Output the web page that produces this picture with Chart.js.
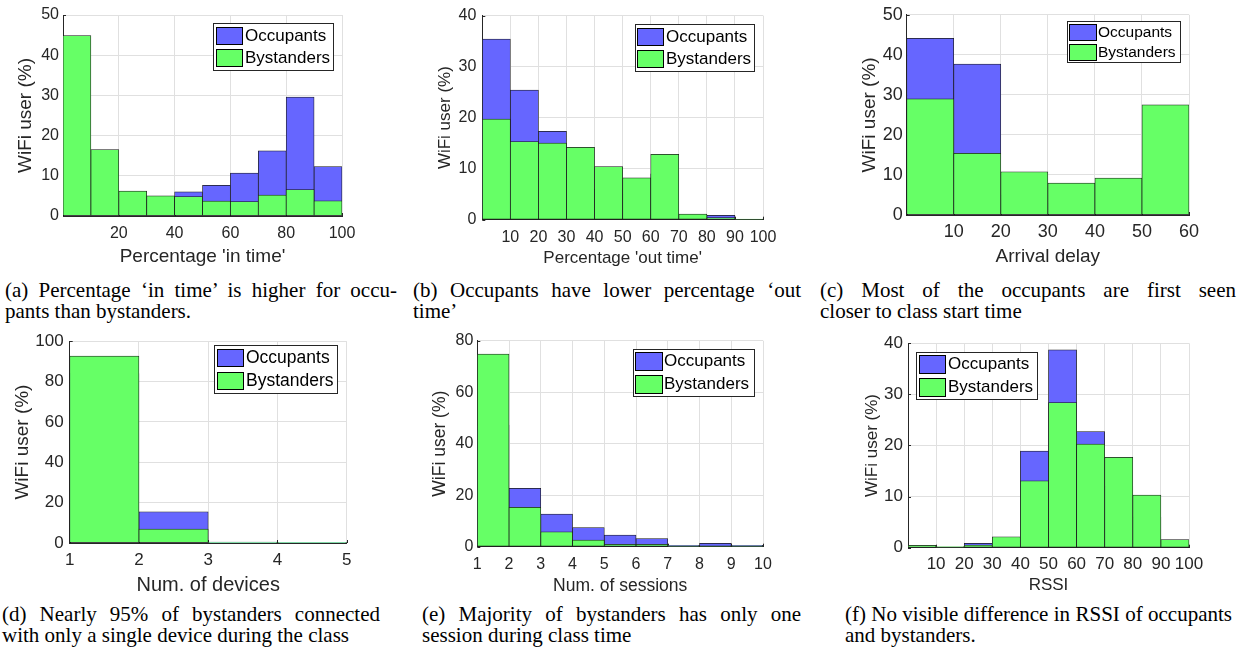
<!DOCTYPE html>
<html><head><meta charset="utf-8">
<script src="https://cdn.jsdelivr.net/npm/chart.js@4.4.0/dist/chart.umd.min.js"></script>
<style>
html,body{margin:0;padding:0;background:#fff;}
body{width:1242px;height:652px;position:relative;overflow:hidden;}
canvas{position:absolute;}
.cap{position:absolute;font-family:"Liberation Serif","Times New Roman",serif;font-size:21px;line-height:21.5px;color:#000;}
.cap .l1{text-align:justify;text-align-last:justify;}
</style></head><body>
<canvas id="ca" width="414" height="270" style="left:0;top:0"></canvas>
<canvas id="cb" width="414" height="270" style="left:414px;top:0"></canvas>
<canvas id="cc" width="414" height="270" style="left:828px;top:0"></canvas>
<canvas id="cd" width="414" height="275" style="left:0;top:325px"></canvas>
<canvas id="ce" width="414" height="275" style="left:414px;top:325px"></canvas>
<canvas id="cf" width="414" height="275" style="left:828px;top:325px"></canvas>

<div class="cap" style="left:5px;top:279.6px;width:392px"><div class="l1">(a) Percentage ‘in time’ is higher for occu-</div><div>pants than bystanders.</div></div>
<div class="cap" style="left:413px;top:279.6px;width:388px"><div class="l1">(b) Occupants have lower percentage ‘out</div><div>time’</div></div>
<div class="cap" style="left:820px;top:279.6px;width:416px"><div class="l1">(c) Most of the occupants are first seen</div><div>closer to class start time</div></div>
<div class="cap" style="left:2px;top:603.8px;width:378px"><div class="l1">(d) Nearly 95% of bystanders connected</div><div>with only a single device during the class</div></div>
<div class="cap" style="left:422px;top:603.8px;width:379px"><div class="l1">(e) Majority of bystanders has only one</div><div>session during class time</div></div>
<div class="cap" style="left:845px;top:603.8px;width:387px"><div class="l1">(f) No visible difference in RSSI of occupants</div><div>and bystanders.</div></div>

<script>
// ---------- DATA ----------
const seriesLabels = ['Occupants', 'Bystanders'];
const yAxisTitle = 'WiFi user (%)';

// (a) Percentage 'in time'
const inTimeEdges = [0,10,20,30,40,50,60,70,80,90,100];
const inTimeOccupants = [4.0, 4.5, 4.0, 4.9, 6.0, 7.6, 10.7, 16.2, 29.6, 12.3];
const inTimeBystanders = [44.9, 16.5, 6.2, 5.0, 4.8, 3.7, 3.6, 5.2, 6.6, 3.8];
const inTimeXTicks = [0,20,40,60,80,100];
const inTimeXLabels = ['','20','40','60','80','100'];
const inTimeYTicks = [0,10,20,30,40,50];

// (b) Percentage 'out time'
const outTimeEdges = [0,10,20,30,40,50,60,70,80,90,100];
const outTimeOccupants = [35.4, 25.4, 17.3, 0, 6.0, 5.0, 9.0, 1.0, 0.85, 0];
const outTimeBystanders = [19.7, 15.3, 15.0, 14.2, 10.4, 8.2, 12.8, 1.1, 0.4, 0.1];
const outTimeXTicks = [0,10,20,30,40,50,60,70,80,90,100];
const outTimeXLabels = ['','10','20','30','40','50','60','70','80','90','100'];
const outTimeYTicks = [0,10,20,30,40];

// (c) Arrival delay
const arrivalEdges = [0,10,20,30,40,50,60];
const arrivalOccupants = [44.1, 37.7, 5.0, 3.0, 4.0, 6.0];
const arrivalBystanders = [29.0, 15.4, 10.8, 8.0, 9.2, 27.5];
const arrivalXTicks = [0,10,20,30,40,50,60];
const arrivalXLabels = ['','10','20','30','40','50','60'];
const arrivalYTicks = [0,10,20,30,40,50];

// (d) Num. of devices
const devicesEdges = [1,2,3,4,5];
const devicesOccupants = [84.0, 15.5, 0.3, 0.2];
const devicesBystanders = [92.6, 6.9, 0.4, 0.3];
const devicesXTicks = [1,2,3,4,5];
const devicesXLabels = ['1','2','3','4','5'];
const devicesYTicks = [0,20,40,60,80,100];

// (e) Num. of sessions
const sessionsEdges = [1,2,3,4,5,6,7,8,9,10];
const sessionsOccupants = [47.2, 22.7, 12.7, 7.4, 4.5, 3.2, 0.5, 1.3, 0.5];
const sessionsBystanders = [74.8, 15.3, 5.8, 2.6, 0.9, 0.9, 0.3, 0.2, 0.3];
const sessionsXTicks = [1,2,3,4,5,6,7,8,9,10];
const sessionsXLabels = ['1','2','3','4','5','6','7','8','9','10'];
const sessionsYTicks = [0,20,40,60,80];

// (f) RSSI
const rssiEdges = [0,10,20,30,40,50,60,70,80,90,100];
const rssiOccupants = [0, 0, 0.85, 0, 18.9, 38.7, 22.7, 12.0, 6.0, 0.8];
const rssiBystanders = [0.45, 0.2, 0.5, 2.15, 13.1, 28.4, 20.3, 17.7, 10.3, 1.6];
const rssiXTicks = [0,10,20,30,40,50,60,70,80,90,100];
const rssiXLabels = ['','10','20','30','40','50','60','70','80','90','100'];
const rssiYTicks = [0,10,20,30,40];

// ---------- STYLE ----------
const FAMILY = '"Liberation Sans", Arial, Helvetica, sans-serif';
const BLUE = '#6666ff', GREEN = '#66ff66', EDGE = '#1a1a1a';
const GRID = '#e0e0e0', AXIS = '#262626';

const histPlugin = {
  id: 'hist',
  beforeDatasetsDraw(chart, args, o) {
    const ctx = chart.ctx, a = chart.chartArea;
    ctx.save();
    ctx.strokeStyle = AXIS; ctx.lineWidth = 1;
    ctx.beginPath();
    chart.scales.y.ticks.forEach(t => {
      const y = Math.round(chart.scales.y.getPixelForValue(t.value)) + 0.5;
      ctx.moveTo(a.left, y); ctx.lineTo(a.left + 3, y);
    });
    chart.scales.x.ticks.forEach(t => {
      const x = Math.round(chart.scales.x.getPixelForValue(t.value)) + 0.5;
      ctx.moveTo(x, a.bottom); ctx.lineTo(x, a.bottom - 3);
    });
    ctx.stroke();
    ctx.restore();
  },
  afterDraw(chart, args, o) {
    const lg = o.legend; if (!lg) return;
    const ctx = chart.ctx;
    ctx.save();
    const bx = Math.round(lg.x), by = Math.round(lg.y), bw = Math.round(lg.w), bh = Math.round(lg.h);
    ctx.fillStyle = '#fff'; ctx.fillRect(bx, by, bw, bh);
    ctx.strokeStyle = AXIS; ctx.lineWidth = 1;
    ctx.strokeRect(bx + 0.5, by + 0.5, bw, bh);
    chart.data.datasets.forEach((d, i) => {
      const sx = Math.round(lg.sx), sy = Math.round(lg.sy[i]), sw = Math.round(lg.sw), sh = Math.round(lg.sh);
      ctx.fillStyle = d.backgroundColor; ctx.fillRect(sx, sy, sw, sh);
      ctx.strokeStyle = '#000'; ctx.strokeRect(sx + 0.5, sy + 0.5, sw, sh);
      ctx.fillStyle = '#000';
      ctx.font = lg.font + 'px ' + FAMILY;
      ctx.textBaseline = 'middle'; ctx.textAlign = 'left';
      ctx.fillText(d.label, lg.tx, sy + sh / 2 + 0.5);
    });
    ctx.restore();
  }
};

function makeChart(id, p) {
  const centers = p.edges.slice(0, -1).map((e, i) => (e + p.edges[i + 1]) / 2);
  const ds = (label, vals, color, order) => ({
    label, data: centers.map((c, i) => ({x: c, y: vals[i]})),
    backgroundColor: color, borderColor: EDGE, borderWidth: 0.75, borderSkipped: false,
    order, grouped: false, barPercentage: 1, categoryPercentage: 1
  });
  new Chart(document.getElementById(id), {
    type: 'bar',
    data: { datasets: [
      ds(seriesLabels[0], p.occ, BLUE, 2),
      ds(seriesLabels[1], p.bys, GREEN, 1)
    ]},
    options: {
      responsive: false, animation: false, devicePixelRatio: 1,
      layout: { padding: { left: 0, top: p.area.t, right: p.w - p.area.r, bottom: 0 } },
      plugins: { legend: { display: false }, tooltip: { enabled: false }, hist: { legend: p.legend } },
      scales: {
        x: {
          type: 'linear', min: p.edges[0], max: p.edges[p.edges.length - 1], offset: false,
          afterBuildTicks: s => { s.ticks = p.xTicks.map(v => ({ value: v })); },
          afterFit: s => { s.height = p.h - p.area.b; },
          grid: { color: GRID, drawTicks: false, offset: false, lineWidth: 1 },
          border: { color: AXIS, width: 1 },
          ticks: { callback: (v, i) => p.xLabels[i], font: { family: FAMILY, size: p.tick }, color: AXIS,
                   padding: p.xTickPad, maxRotation: 0, autoSkip: false },
          title: { display: true, text: p.xTitle, font: { family: FAMILY, size: p.xTitleSize }, color: AXIS,
                   padding: { top: 0, bottom: p.xTitlePad } }
        },
        y: {
          min: 0, max: p.yTicks[p.yTicks.length - 1],
          afterBuildTicks: s => { s.ticks = p.yTicks.map(v => ({ value: v })); },
          afterFit: s => { s.width = p.area.l; },
          grid: { color: GRID, drawTicks: false, lineWidth: 1 },
          border: { color: AXIS, width: 1 },
          ticks: { callback: v => String(v), font: { family: FAMILY, size: p.tick }, color: AXIS, padding: p.yTickPad },
          title: { display: true, text: yAxisTitle, font: { family: FAMILY, size: p.yTitleSize }, color: AXIS,
                   padding: { top: p.yTitlePad, bottom: 0 } }
        }
      }
    },
    plugins: [histPlugin]
  });
}

makeChart('ca', { w: 414, h: 270, area: { l: 63, r: 342, t: 15, b: 216 },
  edges: inTimeEdges, occ: inTimeOccupants, bys: inTimeBystanders,
  xTicks: inTimeXTicks, xLabels: inTimeXLabels, yTicks: inTimeYTicks,
  xTitle: "Percentage 'in time'", tick: 16, xTitleSize: 19, yTitleSize: 19,
  xTickPad: 7.9, yTickPad: 4, xTitlePad: 2, yTitlePad: 14.6,
  legend: { x: 213, y: 23, w: 120, h: 47, sx: 216, sw: 26, sh: 17, sy: [27, 49], tx: 245, font: 17 } });

makeChart('cb', { w: 414, h: 270, area: { l: 68.3, r: 349, t: 15, b: 219.7 },
  edges: outTimeEdges, occ: outTimeOccupants, bys: outTimeBystanders,
  xTicks: outTimeXTicks, xLabels: outTimeXLabels, yTicks: outTimeYTicks,
  xTitle: "Percentage 'out time'", tick: 16, xTitleSize: 17, yTitleSize: 17,
  xTickPad: 8.2, yTickPad: 6, xTitlePad: 1.2, yTitlePad: 21.5,
  legend: { x: 221, y: 24, w: 119, h: 47, sx: 223, sw: 26, sh: 17, sy: [28, 50], tx: 252, font: 17 } });

makeChart('cc', { w: 414, h: 270, area: { l: 78.7, r: 361, t: 11, b: 215 },
  edges: arrivalEdges, occ: arrivalOccupants, bys: arrivalBystanders,
  xTicks: arrivalXTicks, xLabels: arrivalXLabels, yTicks: arrivalYTicks,
  xTitle: 'Arrival delay', tick: 18, xTitleSize: 19, yTitleSize: 19,
  xTickPad: 6.5, yTickPad: 4, xTitlePad: 2, yTitlePad: 30.3,
  legend: { x: 239, y: 21, w: 113, h: 41, sx: 241, sw: 27, sh: 16, sy: [24, 44], tx: 270, font: 15.5 } });

makeChart('cd', { w: 414, h: 275, area: { l: 69.7, r: 346.7, t: 11, b: 218 },
  edges: devicesEdges, occ: devicesOccupants, bys: devicesBystanders,
  xTicks: devicesXTicks, xLabels: devicesXLabels, yTicks: devicesYTicks,
  xTitle: 'Num. of devices', tick: 17, xTitleSize: 20, yTitleSize: 19,
  xTickPad: 7.6, yTickPad: 6, xTitlePad: 2.3, yTitlePad: 11.1,
  legend: { x: 214, y: 20, w: 123, h: 48, sx: 217, sw: 26, sh: 17, sy: [24, 47], tx: 246, font: 17.5 } });

makeChart('ce', { w: 414, h: 275, area: { l: 63.3, r: 349, t: 15.7, b: 221.7 },
  edges: sessionsEdges, occ: sessionsOccupants, bys: sessionsBystanders,
  xTicks: sessionsXTicks, xLabels: sessionsXLabels, yTicks: sessionsYTicks,
  xTitle: 'Num. of sessions', tick: 16, xTitleSize: 17.5, yTitleSize: 17.5,
  xTickPad: 7.9, yTickPad: 4, xTitlePad: 2.9, yTitlePad: 15.3,
  legend: { x: 219, y: 24, w: 121, h: 47, sx: 221, sw: 27, sh: 18, sy: [27, 50], tx: 250, font: 17 } });

makeChart('cf', { w: 414, h: 275, area: { l: 80, r: 361, t: 18.3, b: 222.7 },
  edges: rssiEdges, occ: rssiOccupants, bys: rssiBystanders,
  xTicks: rssiXTicks, xLabels: rssiXLabels, yTicks: rssiYTicks,
  xTitle: 'RSSI', tick: 17, xTitleSize: 17, yTitleSize: 17,
  xTickPad: 6.1, yTickPad: 5, xTitlePad: 4.1, yTitlePad: 34,
  legend: { x: 88, y: 27, w: 121, h: 47, sx: 91, sw: 26, sh: 18, sy: [30, 53], tx: 120, font: 17 } });
</script>
</body></html>
